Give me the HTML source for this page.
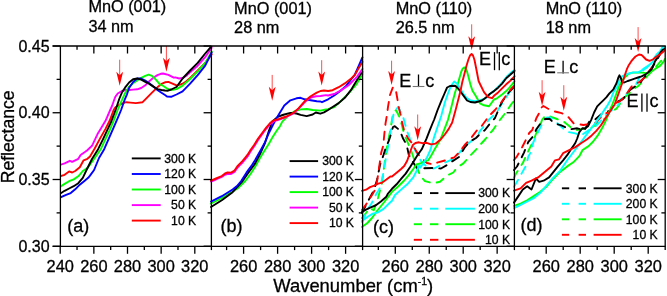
<!DOCTYPE html>
<html><head><meta charset="utf-8"><style>
html,body{margin:0;padding:0;background:#fff;width:667px;height:296px;overflow:hidden}
text{font-family:"Liberation Sans",sans-serif}
</style></head><body>
<svg width="667" height="296" viewBox="0 0 667 296" style="display:block;will-change:transform">
<defs><clipPath id="plot"><rect x="60.4" y="46" width="604.8" height="200.3"/></clipPath></defs>
<g font-family="'Liberation Sans', sans-serif" fill="#000" stroke="#000" stroke-width="0.3">
<text x="49.6" y="51.60" text-anchor="end" font-size="16.0">0.45</text>
<text x="49.6" y="118.35" text-anchor="end" font-size="16.0">0.40</text>
<text x="49.6" y="185.10" text-anchor="end" font-size="16.0">0.35</text>
<text x="49.6" y="251.85" text-anchor="end" font-size="16.0">0.30</text>
<text x="60.20" y="271.5" text-anchor="middle" font-size="16.4">240</text>
<text x="93.85" y="271.5" text-anchor="middle" font-size="16.4">260</text>
<text x="127.50" y="271.5" text-anchor="middle" font-size="16.4">280</text>
<text x="161.15" y="271.5" text-anchor="middle" font-size="16.4">300</text>
<text x="194.80" y="271.5" text-anchor="middle" font-size="16.4">320</text>
<text x="243.60" y="271.5" text-anchor="middle" font-size="16.4">260</text>
<text x="277.60" y="271.5" text-anchor="middle" font-size="16.4">280</text>
<text x="311.60" y="271.5" text-anchor="middle" font-size="16.4">300</text>
<text x="345.60" y="271.5" text-anchor="middle" font-size="16.4">320</text>
<text x="395.30" y="271.5" text-anchor="middle" font-size="16.4">260</text>
<text x="429.25" y="271.5" text-anchor="middle" font-size="16.4">280</text>
<text x="463.20" y="271.5" text-anchor="middle" font-size="16.4">300</text>
<text x="497.15" y="271.5" text-anchor="middle" font-size="16.4">320</text>
<text x="546.20" y="271.5" text-anchor="middle" font-size="16.4">260</text>
<text x="580.20" y="271.5" text-anchor="middle" font-size="16.4">280</text>
<text x="614.20" y="271.5" text-anchor="middle" font-size="16.4">300</text>
<text x="648.20" y="271.5" text-anchor="middle" font-size="16.4">320</text>
<text x="88.4" y="12.3" font-size="16.3">MnO (001)</text>
<text x="88.4" y="31.9" font-size="16.3">34 nm</text>
<text x="234.1" y="14.3" font-size="16.3">MnO (001)</text>
<text x="234.1" y="33.3" font-size="16.3">28 nm</text>
<text x="395.7" y="13.6" font-size="16.3">MnO (110)</text>
<text x="395.7" y="33.3" font-size="16.3">26.5 nm</text>
<text x="545.7" y="13.6" font-size="16.3">MnO (110)</text>
<text x="545.7" y="32.9" font-size="16.3">18 nm</text>
<text x="273.3" y="292.3" font-size="18.4">Wavenumber (cm<tspan dy="-7.2" font-size="10.5">-1</tspan><tspan dy="7.2">)</tspan></text>
<text transform="translate(14.2,183.3) rotate(-90)" font-size="17.6">Reflectance</text>
<text x="196.2" y="162.7" text-anchor="end" font-size="12.2">300 K</text>
<text x="354.0" y="165.4" text-anchor="end" font-size="12.2">300 K</text>
<text x="196.2" y="178.3" text-anchor="end" font-size="12.2">120 K</text>
<text x="354.0" y="180.9" text-anchor="end" font-size="12.2">120 K</text>
<text x="196.2" y="193.8" text-anchor="end" font-size="12.2">100 K</text>
<text x="354.0" y="196.4" text-anchor="end" font-size="12.2">100 K</text>
<text x="196.2" y="209.4" text-anchor="end" font-size="12.2">50 K</text>
<text x="354.0" y="211.9" text-anchor="end" font-size="12.2">50 K</text>
<text x="196.2" y="224.9" text-anchor="end" font-size="12.2">10 K</text>
<text x="354.0" y="227.4" text-anchor="end" font-size="12.2">10 K</text>
<text x="510.1" y="197.4" text-anchor="end" font-size="12.2">300 K</text>
<text x="657.7" y="192.6" text-anchor="end" font-size="12.2">300 K</text>
<text x="510.1" y="213.0" text-anchor="end" font-size="12.2">200 K</text>
<text x="657.7" y="208.1" text-anchor="end" font-size="12.2">200 K</text>
<text x="510.1" y="228.5" text-anchor="end" font-size="12.2">100 K</text>
<text x="657.7" y="223.6" text-anchor="end" font-size="12.2">100 K</text>
<text x="510.1" y="244.1" text-anchor="end" font-size="12.2">10 K</text>
<text x="657.7" y="239.1" text-anchor="end" font-size="12.2">10 K</text>
<text x="67.2" y="231.8" font-size="18">(a)</text>
<text x="220.5" y="232.0" font-size="18">(b)</text>
<text x="373.0" y="233.0" font-size="18">(c)</text>
<text x="520.6" y="230.5" font-size="18">(d)</text>
<text x="399.3" y="87.1" font-size="18">E</text>
<text x="425.3" y="87.1" font-size="18">c</text>
<text x="479.1" y="65.3" font-size="18">E</text>
<text x="501.3" y="65.3" font-size="18">c</text>
<text x="543.8" y="73.4" font-size="18">E</text>
<text x="569.3" y="73.4" font-size="18">c</text>
<text x="626.4" y="106.8" font-size="18">E</text>
<text x="649.5" y="106.8" font-size="18">c</text>
</g>
<g>
<path d="M60.0,176.3 L64.6,174.8 L69.1,171.4 L72.2,172.5 L75.2,171.0 L79.8,167.2 L83.6,160.3 L87.4,158.8 L90.0,156.5 L94.7,148.5 L100.1,138.4 L105.5,128.9 L109.6,120.8 L113.6,110.0 L115.2,107.5 L118.5,105.3 L121.9,103.6 L126.1,102.2 L130.4,102.6 L135.8,103.1 L142.6,102.2 L146.6,98.1 L152.0,92.7 L157.4,87.3 L161.5,83.9 L165.0,82.3 L168.4,81.9 L172.5,83.6 L176.5,85.4 L180.6,84.5 L182.6,83.7 L186.0,81.5 L190.1,78.0 L197.7,70.5 L205.2,62.9 L211.7,54.4" fill="none" stroke="#ff0000" stroke-width="1.9" stroke-linejoin="round" stroke-linecap="round" clip-path="url(#plot)"/>
<path d="M60.0,164.9 L64.6,163.4 L69.9,160.8 L72.2,161.9 L75.2,160.3 L78.3,158.8 L80.6,155.0 L84.2,152.5 L87.0,150.5 L92.0,145.8 L97.4,134.3 L101.5,127.6 L105.5,120.8 L110.2,110.0 L112.0,106.0 L115.2,97.0 L117.7,93.5 L121.9,91.0 L126.1,90.0 L129.1,90.0 L133.1,89.6 L137.2,89.3 L141.2,88.0 L145.3,85.3 L149.3,81.2 L153.4,77.8 L157.4,75.1 L160.8,73.8 L163.0,73.5 L168.4,74.9 L173.8,77.6 L175.3,77.4 L179.2,78.5 L182.6,78.0 L186.0,76.0 L190.1,72.4 L197.7,65.7 L205.2,57.2 L211.7,47.8" fill="none" stroke="#ff00ff" stroke-width="1.9" stroke-linejoin="round" stroke-linecap="round" clip-path="url(#plot)"/>
<path d="M60.0,187.0 L64.6,183.9 L69.1,181.2 L73.7,179.4 L78.3,176.3 L82.8,171.0 L88.0,167.5 L94.0,159.0 L100.8,149.2 L104.8,140.4 L109.6,130.3 L113.6,120.8 L117.7,110.0 L121.9,100.2 L124.5,94.3 L127.0,90.0 L129.1,86.6 L133.1,83.2 L137.2,80.5 L141.2,77.8 L145.3,75.8 L148.6,74.7 L152.0,75.8 L156.1,79.9 L160.1,84.6 L163.0,85.7 L167.0,88.6 L171.1,90.0 L176.5,89.1 L182.6,85.6 L190.1,79.0 L197.7,71.4 L205.2,62.9 L211.7,51.6" fill="none" stroke="#00ff00" stroke-width="1.9" stroke-linejoin="round" stroke-linecap="round" clip-path="url(#plot)"/>
<path d="M60.0,197.6 L66.1,194.9 L70.7,193.1 L75.2,189.3 L79.8,184.7 L84.4,180.9 L88.2,177.8 L90.0,175.6 L94.1,170.0 L99.0,158.0 L104.2,149.2 L108.9,138.4 L113.6,127.6 L117.7,118.1 L121.1,110.0 L124.5,100.2 L127.0,94.3 L129.1,88.0 L133.1,81.9 L137.2,78.5 L141.2,78.5 L145.3,80.5 L149.3,83.2 L153.4,86.6 L157.4,90.0 L161.5,92.7 L165.0,95.0 L167.0,96.5 L171.1,96.8 L176.5,94.5 L182.6,91.3 L190.1,83.7 L197.7,75.2 L205.2,65.7 L211.7,52.5" fill="none" stroke="#0000ff" stroke-width="1.9" stroke-linejoin="round" stroke-linecap="round" clip-path="url(#plot)"/>
<path d="M60.0,193.8 L64.6,190.8 L69.1,188.5 L73.7,186.2 L78.3,183.2 L82.8,177.8 L87.0,169.0 L92.0,159.0 L98.1,149.2 L102.8,139.7 L106.9,130.9 L111.0,122.2 L115.6,110.0 L119.4,98.5 L121.9,92.6 L125.2,87.4 L129.1,82.5 L133.1,79.2 L137.2,78.5 L141.2,79.6 L145.3,81.9 L149.3,83.9 L153.4,86.6 L157.4,89.1 L161.5,90.0 L165.0,90.5 L168.0,90.7 L171.1,89.5 L176.5,87.0 L182.6,78.5 L190.1,70.5 L197.7,62.9 L205.2,53.5 L211.4,46.3" fill="none" stroke="#000000" stroke-width="1.9" stroke-linejoin="round" stroke-linecap="round" clip-path="url(#plot)"/>
<line x1="119.7" y1="59.7" x2="119.7" y2="76.8" stroke="#ff0000" stroke-width="1.0" opacity="0.7"/>
<path d="M119.7,85.8 L116.3,71.8 L119.7,75.3 L123.10000000000001,71.8 Z" fill="#ff0000"/>
<line x1="166.4" y1="46" x2="166.4" y2="62.8" stroke="#ff0000" stroke-width="1.0" opacity="0.7"/>
<path d="M166.4,71.8 L163.0,57.8 L166.4,61.3 L169.8,57.8 Z" fill="#ff0000"/>
<path d="M211.0,203.5 L219.0,199.5 L227.2,194.9 L238.0,188.1 L245.3,181.0 L250.7,173.8 L255.0,167.0 L260.0,158.0 L264.9,150.0 L268.9,143.8 L273.0,136.4 L277.0,130.3 L280.0,126.2 L282.3,121.6 L288.4,115.5 L294.5,111.4 L300.6,109.4 L306.7,109.0 L312.7,110.0 L320.3,110.6 L325.9,109.5 L328.1,109.2 L334.2,107.0 L340.5,101.4 L348.6,93.3 L356.8,83.8 L362.4,74.0" fill="none" stroke="#00ff00" stroke-width="1.9" stroke-linejoin="round" stroke-linecap="round" clip-path="url(#plot)"/>
<path d="M211.0,207.0 L221.8,200.3 L232.6,192.2 L242.6,181.0 L248.0,173.1 L255.0,163.6 L260.0,154.0 L265.0,143.0 L268.5,132.0 L272.2,121.5 L278.3,116.5 L284.3,114.5 L290.4,112.9 L296.5,113.5 L300.6,114.9 L306.7,116.1 L312.7,114.5 L315.8,112.5 L320.3,113.7 L324.0,112.4 L328.1,110.0 L332.6,107.0 L338.7,103.1 L344.8,97.8 L350.9,90.2 L355.5,82.6 L360.0,75.0 L362.4,72.0" fill="none" stroke="#000000" stroke-width="1.9" stroke-linejoin="round" stroke-linecap="round" clip-path="url(#plot)"/>
<path d="M211.0,201.6 L221.8,196.2 L232.6,189.5 L237.0,186.0 L241.2,181.0 L246.6,172.4 L252.0,165.0 L255.0,160.3 L260.8,150.0 L264.9,142.4 L268.9,133.0 L273.0,124.9 L277.0,117.4 L280.0,112.5 L284.3,105.4 L290.4,100.3 L296.5,98.3 L300.6,97.8 L304.6,99.3 L310.7,100.3 L316.8,101.3 L320.5,101.5 L322.0,102.2 L328.1,99.3 L334.2,95.5 L340.3,91.0 L346.3,85.6 L350.9,79.6 L354.7,75.0 L358.5,66.5 L362.4,57.4" fill="none" stroke="#0000ff" stroke-width="1.9" stroke-linejoin="round" stroke-linecap="round" clip-path="url(#plot)"/>
<path d="M211.0,181.5 L216.0,179.5 L221.8,177.0 L225.0,174.8 L227.7,173.8 L231.1,174.0 L234.5,172.0 L237.2,168.0 L239.9,165.2 L242.6,162.5 L245.3,159.2 L248.0,155.8 L250.5,151.5 L254.1,146.5 L258.1,140.0 L262.2,134.2 L266.2,128.8 L270.3,124.0 L274.3,121.0 L278.4,119.8 L282.0,118.5 L286.4,117.0 L292.5,114.0 L298.5,108.8 L304.6,102.3 L308.0,99.5 L311.7,97.2 L316.0,96.3 L320.5,96.0 L325.9,95.1 L328.1,95.5 L334.2,94.0 L340.5,90.6 L348.6,85.2 L356.8,77.1 L362.4,69.0" fill="none" stroke="#ff00ff" stroke-width="1.9" stroke-linejoin="round" stroke-linecap="round" clip-path="url(#plot)"/>
<path d="M211.0,180.6 L216.0,178.5 L221.8,176.0 L225.0,173.5 L227.7,172.4 L231.1,172.6 L234.5,170.5 L237.2,166.5 L239.9,163.6 L242.6,160.9 L245.3,157.6 L248.0,154.2 L250.5,150.0 L254.1,145.0 L258.1,138.6 L262.2,133.0 L266.2,127.6 L270.3,122.8 L274.3,120.1 L278.4,119.2 L282.0,118.0 L286.4,116.5 L292.5,113.5 L298.5,108.4 L304.6,101.3 L310.7,96.2 L316.8,92.6 L320.5,91.0 L324.0,90.5 L328.1,91.0 L332.6,90.2 L338.7,87.2 L344.8,83.4 L350.9,78.8 L354.7,75.0 L358.5,68.5 L362.4,61.9" fill="none" stroke="#ff0000" stroke-width="1.9" stroke-linejoin="round" stroke-linecap="round" clip-path="url(#plot)"/>
<line x1="272.2" y1="74.9" x2="272.2" y2="91.7" stroke="#ff0000" stroke-width="1.0" opacity="0.7"/>
<path d="M272.2,100.7 L268.8,86.7 L272.2,90.2 L275.59999999999997,86.7 Z" fill="#ff0000"/>
<line x1="321.7" y1="60.2" x2="321.7" y2="76.6" stroke="#ff0000" stroke-width="1.0" opacity="0.7"/>
<path d="M321.7,85.6 L318.3,71.6 L321.7,75.1 L325.09999999999997,71.6 Z" fill="#ff0000"/>
<path d="M362.0,218.0 L370.0,208.0 L373.8,210.3 L378.0,198.0 L382.0,183.0 L385.0,160.0 L387.2,145.6 L388.9,137.1 L390.6,128.7 L391.9,120.3 L393.1,113.5 L396.0,110.0 L399.0,116.0 L401.5,123.6 L403.2,130.4 L405.8,138.0 L408.3,143.9 L412.0,153.0 L416.0,165.0 L420.3,175.7 L425.0,181.1 L430.0,182.5 L434.5,183.0 L440.0,181.8 L447.2,175.5 L453.3,172.5 L457.3,167.4 L463.4,163.4 L469.5,156.3 L475.5,150.2 L480.0,145.0 L485.5,139.0 L489.0,134.5 L493.0,130.0 L498.0,122.5 L503.8,115.0 L508.0,109.0 L512.4,102.8 L514.0,101.0" fill="none" stroke="#00ff00" stroke-width="1.9" stroke-linejoin="round" stroke-linecap="round" stroke-dasharray="8 7" clip-path="url(#plot)"/>
<path d="M362.0,222.0 L368.8,207.6 L371.5,203.5 L376.9,192.7 L378.9,190.0 L380.3,186.7 L384.0,170.0 L386.0,157.0 L388.9,142.2 L392.3,120.3 L393.9,112.7 L398.2,106.8 L403.2,116.9 L404.9,123.6 L407.4,132.1 L410.0,138.8 L415.0,150.0 L421.0,161.0 L427.0,167.0 L434.0,168.5 L440.1,165.4 L445.2,162.4 L452.3,159.4 L458.3,154.3 L462.4,149.2 L468.5,143.2 L476.6,137.1 L480.0,131.0 L484.5,125.5 L489.0,119.5 L493.6,115.4 L498.0,110.0 L503.0,102.0 L509.0,93.0 L514.0,87.0" fill="none" stroke="#00ffff" stroke-width="1.9" stroke-linejoin="round" stroke-linecap="round" stroke-dasharray="8 7" clip-path="url(#plot)"/>
<path d="M362.0,213.0 L366.0,205.0 L370.4,196.8 L374.0,190.0 L377.0,180.0 L380.0,165.0 L383.5,155.0 L386.0,147.0 L388.9,140.5 L390.6,135.4 L393.0,127.0 L394.8,126.2 L399.8,130.4 L403.2,138.8 L406.6,144.7 L408.8,154.7 L411.5,160.1 L417.6,168.9 L423.6,168.2 L433.0,168.0 L441.0,168.5 L447.0,165.0 L452.0,161.5 L459.0,157.0 L465.0,147.0 L470.0,141.5 L476.0,138.0 L480.0,134.0 L485.0,130.0 L490.0,123.5 L495.0,118.0 L500.0,106.0 L502.3,101.5 L506.0,96.0 L510.0,91.0 L514.0,87.0" fill="none" stroke="#000000" stroke-width="1.9" stroke-linejoin="round" stroke-linecap="round" stroke-dasharray="8 7" clip-path="url(#plot)"/>
<path d="M362.0,210.0 L367.0,203.0 L372.0,195.0 L375.0,190.0 L377.2,180.6 L381.3,152.2 L383.0,146.4 L383.8,139.7 L384.7,130.4 L385.5,123.6 L387.2,113.5 L388.0,106.8 L390.0,95.0 L393.0,87.0 L396.0,91.0 L399.0,108.4 L400.7,115.2 L402.4,123.6 L404.1,130.4 L408.3,138.8 L412.0,143.0 L416.2,151.1 L420.3,157.2 L427.0,163.0 L433.0,164.5 L438.0,162.4 L445.2,160.4 L454.3,157.3 L458.3,153.3 L465.4,144.2 L469.5,140.1 L477.4,129.7 L481.0,127.0 L485.0,121.5 L490.0,115.0 L495.0,110.0 L500.7,103.3 L505.0,97.0 L511.0,89.0 L514.0,86.0" fill="none" stroke="#ff0000" stroke-width="1.9" stroke-linejoin="round" stroke-linecap="round" stroke-dasharray="8 7" clip-path="url(#plot)"/>
<path d="M362.0,227.0 L367.4,223.0 L372.0,218.0 L377.0,211.0 L384.3,202.0 L392.0,191.9 L398.1,186.5 L404.2,180.5 L408.8,175.1 L413.3,169.0 L416.4,164.5 L420.3,163.5 L425.0,161.1 L428.1,160.4 L431.1,155.8 L435.7,147.4 L440.3,139.8 L443.3,132.2 L445.6,126.1 L447.9,120.0 L450.5,110.5 L453.3,99.3 L455.2,92.0 L457.3,86.0 L459.3,78.6 L461.3,71.5 L462.8,68.5 L464.4,67.4 L466.4,69.4 L468.4,76.5 L470.5,84.7 L472.5,90.8 L475.5,95.5 L480.0,103.3 L484.0,105.3 L489.1,106.3 L494.0,99.5 L497.0,98.3 L502.1,94.4 L506.2,91.1 L509.5,87.7 L514.5,81.3" fill="none" stroke="#00ff00" stroke-width="1.9" stroke-linejoin="round" stroke-linecap="round" clip-path="url(#plot)"/>
<path d="M362.0,221.1 L367.4,217.0 L372.8,213.6 L378.2,212.3 L383.6,208.9 L389.0,203.5 L392.0,200.8 L395.0,195.0 L401.1,189.6 L407.2,184.3 L413.3,177.4 L416.4,171.3 L419.4,165.2 L420.3,167.6 L423.6,162.8 L427.0,157.4 L430.4,150.0 L433.7,138.4 L437.4,127.2 L441.2,116.0 L445.0,102.0 L448.5,92.0 L451.0,86.0 L454.2,81.6 L457.3,83.7 L460.3,88.7 L463.4,93.8 L466.4,97.9 L470.4,100.4 L475.0,101.3 L480.0,100.5 L485.0,98.5 L490.0,94.0 L495.0,90.0 L500.0,85.0 L506.9,76.5 L511.9,71.8 L514.5,70.1" fill="none" stroke="#00ffff" stroke-width="1.9" stroke-linejoin="round" stroke-linecap="round" clip-path="url(#plot)"/>
<path d="M362.0,212.0 L366.0,209.6 L370.1,207.6 L375.5,205.5 L380.9,201.5 L386.3,196.8 L388.0,193.5 L392.0,188.8 L396.6,184.3 L401.1,178.9 L405.7,173.6 L410.3,166.8 L414.1,160.7 L417.9,154.6 L420.5,151.0 L422.0,148.9 L426.6,138.3 L429.6,130.7 L432.7,123.0 L434.2,119.5 L437.4,110.5 L441.2,101.2 L444.5,93.5 L447.1,87.5 L450.0,86.0 L455.2,85.7 L458.3,88.7 L461.3,92.8 L464.4,96.9 L467.0,100.5 L470.4,102.0 L475.0,102.5 L482.0,100.5 L486.0,97.5 L490.0,93.7 L494.0,91.1 L498.1,87.7 L502.1,83.6 L506.2,78.2 L510.2,74.8 L514.5,71.0" fill="none" stroke="#000000" stroke-width="1.9" stroke-linejoin="round" stroke-linecap="round" clip-path="url(#plot)"/>
<path d="M362.0,190.8 L366.1,189.7 L370.1,187.1 L374.2,185.7 L378.2,183.7 L382.3,182.6 L386.4,179.6 L390.4,176.5 L392.0,176.6 L396.6,172.8 L401.1,169.0 L404.2,166.0 L407.2,160.7 L408.8,156.1 L409.7,153.0 L410.8,150.0 L412.8,145.0 L415.5,143.0 L418.9,142.3 L422.3,143.2 L426.6,142.8 L431.1,144.4 L435.7,143.6 L440.3,139.8 L444.8,134.5 L448.6,129.1 L452.2,122.5 L456.0,108.6 L458.8,97.4 L460.7,90.0 L462.3,82.0 L464.4,74.0 L466.4,66.0 L468.4,59.5 L470.0,55.5 L471.6,54.0 L473.0,55.5 L474.5,60.0 L476.5,70.0 L478.6,81.0 L480.0,84.0 L484.0,92.1 L488.1,97.2 L492.1,98.2 L494.0,95.8 L498.1,92.4 L502.1,88.4 L506.2,84.3 L510.2,80.9 L514.5,76.3" fill="none" stroke="#ff0000" stroke-width="1.9" stroke-linejoin="round" stroke-linecap="round" clip-path="url(#plot)"/>
<line x1="391.6" y1="60.7" x2="391.6" y2="76.1" stroke="#ff0000" stroke-width="1.0" opacity="0.7"/>
<path d="M391.6,85.1 L388.20000000000005,71.1 L391.6,74.6 L395.0,71.1 Z" fill="#ff0000"/>
<line x1="417.7" y1="114.5" x2="417.7" y2="131.3" stroke="#ff0000" stroke-width="1.0" opacity="0.7"/>
<path d="M417.7,140.3 L414.3,126.30000000000001 L417.7,129.8 L421.09999999999997,126.30000000000001 Z" fill="#ff0000"/>
<line x1="471.7" y1="24.3" x2="471.7" y2="41.3" stroke="#ff0000" stroke-width="1.0" opacity="0.7"/>
<path d="M471.7,50.3 L468.3,36.3 L471.7,39.8 L475.09999999999997,36.3 Z" fill="#ff0000"/>
<path d="M514.0,178.0 L516.0,173.6 L523.1,162.5 L526.2,155.4 L530.2,147.2 L533.3,141.2 L536.3,133.0 L539.3,128.3 L542.0,120.0 L545.0,116.0 L550.0,116.5 L557.0,119.0 L563.5,121.5 L571.0,127.5 L577.0,130.0 L584.3,128.5 L590.4,128.5 L599.5,122.3 L605.5,118.2 L609.4,112.6 L616.5,108.6 L625.0,97.0 L634.0,88.8 L637.9,86.3 L643.8,80.4 L647.2,76.1 L655.0,68.0 L660.0,62.0 L665.0,57.0" fill="none" stroke="#00ff00" stroke-width="1.9" stroke-linejoin="round" stroke-linecap="round" stroke-dasharray="8 7" clip-path="url(#plot)"/>
<path d="M514.0,186.8 L517.0,181.7 L522.1,172.6 L526.2,165.5 L528.3,156.6 L531.5,151.1 L533.2,142.5 L536.3,136.1 L540.3,127.3 L543.4,121.5 L547.0,117.5 L550.4,117.5 L555.5,121.5 L561.0,126.5 L566.1,131.5 L575.2,133.4 L581.3,135.4 L588.3,130.4 L593.4,128.3 L600.0,122.0 L607.0,114.0 L613.9,108.6 L618.6,104.6 L622.0,97.2 L626.8,93.8 L630.1,88.4 L635.0,86.4 L643.4,69.9 L647.4,67.2 L653.1,60.9 L655.7,55.8 L661.6,48.2 L665.0,45.7" fill="none" stroke="#00ffff" stroke-width="1.9" stroke-linejoin="round" stroke-linecap="round" stroke-dasharray="8 7" clip-path="url(#plot)"/>
<path d="M514.0,170.0 L517.0,166.5 L521.1,158.4 L524.1,152.3 L528.2,142.2 L533.3,136.1 L536.3,129.4 L541.3,122.3 L545.0,119.0 L549.5,118.7 L554.2,123.3 L560.7,125.2 L567.2,128.0 L569.1,129.4 L577.2,128.3 L584.3,130.4 L589.4,121.3 L595.4,119.2 L603.3,112.6 L610.4,110.6 L615.5,102.5 L622.6,99.4 L630.0,90.0 L640.0,83.0 L643.0,79.0 L648.0,73.0 L655.0,63.0 L660.7,53.3 L665.0,49.1" fill="none" stroke="#000000" stroke-width="1.9" stroke-linejoin="round" stroke-linecap="round" stroke-dasharray="8 7" clip-path="url(#plot)"/>
<path d="M514.0,160.0 L517.0,156.4 L522.1,147.2 L525.2,141.2 L529.2,133.0 L532.3,130.0 L536.3,118.2 L540.3,111.0 L541.5,107.5 L543.4,106.0 L547.7,108.5 L553.2,111.2 L557.0,112.0 L561.6,113.1 L565.0,114.5 L568.1,116.8 L573.7,123.3 L577.2,124.0 L583.3,125.0 L590.4,124.0 L596.4,122.3 L603.0,114.5 L609.2,111.8 L613.9,103.9 L620.0,101.2 L625.0,96.0 L632.0,86.0 L639.3,82.0 L644.1,78.0 L649.5,70.5 L652.8,67.2 L655.7,60.1 L659.9,54.1 L665.0,48.0" fill="none" stroke="#ff0000" stroke-width="1.9" stroke-linejoin="round" stroke-linecap="round" stroke-dasharray="8 7" clip-path="url(#plot)"/>
<path d="M514.0,205.9 L520.6,203.7 L527.2,200.4 L533.7,196.1 L540.3,191.7 L546.9,186.2 L553.5,178.5 L560.1,171.9 L567.2,166.4 L573.3,162.3 L579.3,156.2 L582.6,150.0 L588.6,146.1 L593.2,141.5 L597.8,135.4 L602.3,127.8 L606.1,120.2 L608.4,114.1 L610.7,108.0 L612.2,105.0 L615.5,96.0 L619.1,86.1 L623.1,79.3 L628.5,73.9 L632.6,72.6 L638.0,72.6 L642.0,72.6 L646.8,73.1 L652.2,71.0 L656.2,68.3 L660.3,65.6 L663.6,61.6 L665.0,58.9" fill="none" stroke="#00ff00" stroke-width="1.9" stroke-linejoin="round" stroke-linecap="round" clip-path="url(#plot)"/>
<path d="M514.0,208.1 L520.6,204.8 L527.2,201.5 L533.7,198.2 L540.3,192.8 L546.9,185.1 L553.5,177.4 L560.1,170.8 L567.2,160.3 L573.3,152.2 L578.0,146.1 L582.6,140.0 L587.1,133.9 L591.7,127.8 L596.3,121.7 L600.8,115.6 L604.6,109.6 L607.7,105.0 L610.5,100.0 L613.4,92.3 L617.5,86.2 L619.1,80.7 L622.0,76.4 L625.4,74.7 L628.9,73.5 L633.5,72.4 L638.1,72.4 L641.5,70.6 L643.8,68.5 L646.1,67.0 L649.6,64.8 L652.0,62.5 L654.0,59.5 L656.2,55.5 L660.3,50.8 L663.0,46.7 L665.0,46.0" fill="none" stroke="#00ffff" stroke-width="1.9" stroke-linejoin="round" stroke-linecap="round" clip-path="url(#plot)"/>
<path d="M514.0,202.6 L518.4,196.1 L522.8,189.5 L527.2,186.2 L531.5,189.5 L535.9,178.5 L539.2,181.8 L543.6,180.7 L549.1,177.4 L553.5,171.9 L557.9,166.4 L563.1,160.3 L567.2,155.2 L571.2,149.1 L575.3,143.0 L577.2,138.5 L579.2,132.4 L582.3,128.3 L585.0,128.5 L588.0,126.2 L591.1,120.1 L594.1,112.5 L597.2,106.4 L600.2,103.4 L603.3,100.3 L606.3,97.3 L609.4,93.4 L613.4,89.3 L616.5,83.2 L618.5,77.1 L619.5,75.3 L621.1,78.6 L622.0,82.1 L624.3,82.5 L627.7,81.0 L631.2,79.8 L634.6,78.7 L638.1,77.5 L641.5,76.4 L645.0,74.7 L648.4,72.2 L651.9,69.0 L654.9,61.6 L657.6,57.5 L660.3,52.8 L662.3,50.1 L665.0,48.5" fill="none" stroke="#000000" stroke-width="1.9" stroke-linejoin="round" stroke-linecap="round" clip-path="url(#plot)"/>
<path d="M514.0,190.6 L520.6,188.4 L526.1,182.9 L531.5,180.7 L538.1,177.4 L544.7,171.9 L551.3,166.4 L555.0,160.3 L559.1,159.3 L563.1,153.2 L569.2,150.1 L575.3,147.1 L581.4,143.0 L582.6,142.3 L587.1,139.2 L591.7,135.4 L596.3,130.9 L600.8,125.5 L604.6,119.4 L608.4,114.1 L612.2,108.0 L614.5,105.0 L617.0,98.0 L620.5,88.0 L623.3,80.0 L625.4,73.5 L627.2,68.3 L628.9,64.9 L631.2,61.4 L633.5,58.6 L635.5,56.5 L639.0,54.5 L641.5,55.0 L642.7,56.0 L646.1,59.5 L649.5,60.9 L652.8,59.5 L656.2,56.8 L660.3,54.1 L663.6,51.4 L665.0,50.1" fill="none" stroke="#ff0000" stroke-width="1.9" stroke-linejoin="round" stroke-linecap="round" clip-path="url(#plot)"/>
<line x1="542.1" y1="80.2" x2="542.1" y2="96.7" stroke="#ff0000" stroke-width="1.0" opacity="0.7"/>
<path d="M542.1,105.7 L538.7,91.7 L542.1,95.2 L545.5,91.7 Z" fill="#ff0000"/>
<line x1="563.8" y1="85.2" x2="563.8" y2="101.7" stroke="#ff0000" stroke-width="1.0" opacity="0.7"/>
<path d="M563.8,110.7 L560.4,96.7 L563.8,100.2 L567.1999999999999,96.7 Z" fill="#ff0000"/>
<line x1="638.1" y1="27.1" x2="638.1" y2="43" stroke="#ff0000" stroke-width="1.0" opacity="0.7"/>
<path d="M638.1,52 L634.7,38.0 L638.1,41.5 L641.5,38.0 Z" fill="#ff0000"/>
<line x1="131.8" y1="158.4" x2="160.7" y2="158.4" stroke="#000000" stroke-width="1.9"/>
<line x1="289.6" y1="161.1" x2="318.1" y2="161.1" stroke="#000000" stroke-width="1.9"/>
<line x1="131.8" y1="174.0" x2="160.7" y2="174.0" stroke="#0000ff" stroke-width="1.9"/>
<line x1="289.6" y1="176.6" x2="318.1" y2="176.6" stroke="#0000ff" stroke-width="1.9"/>
<line x1="131.8" y1="189.5" x2="160.7" y2="189.5" stroke="#00ff00" stroke-width="1.9"/>
<line x1="289.6" y1="192.1" x2="318.1" y2="192.1" stroke="#00ff00" stroke-width="1.9"/>
<line x1="131.8" y1="205.1" x2="160.7" y2="205.1" stroke="#ff00ff" stroke-width="1.9"/>
<line x1="289.6" y1="207.6" x2="318.1" y2="207.6" stroke="#ff00ff" stroke-width="1.9"/>
<line x1="131.8" y1="220.6" x2="160.7" y2="220.6" stroke="#ff0000" stroke-width="1.9"/>
<line x1="289.6" y1="223.1" x2="318.1" y2="223.1" stroke="#ff0000" stroke-width="1.9"/>
<line x1="413.8" y1="193.1" x2="422" y2="193.1" stroke="#000000" stroke-width="1.9"/>
<line x1="430" y1="193.1" x2="438.4" y2="193.1" stroke="#000000" stroke-width="1.9"/>
<line x1="445.3" y1="193.1" x2="474.9" y2="193.1" stroke="#000000" stroke-width="1.9"/>
<line x1="561.9" y1="188.3" x2="569.2" y2="188.3" stroke="#000000" stroke-width="1.9"/>
<line x1="578.6" y1="188.3" x2="586" y2="188.3" stroke="#000000" stroke-width="1.9"/>
<line x1="593.6" y1="188.3" x2="621.6" y2="188.3" stroke="#000000" stroke-width="1.9"/>
<line x1="413.8" y1="208.7" x2="422" y2="208.7" stroke="#00ffff" stroke-width="1.9"/>
<line x1="430" y1="208.7" x2="438.4" y2="208.7" stroke="#00ffff" stroke-width="1.9"/>
<line x1="445.3" y1="208.7" x2="474.9" y2="208.7" stroke="#00ffff" stroke-width="1.9"/>
<line x1="561.9" y1="203.8" x2="569.2" y2="203.8" stroke="#00ffff" stroke-width="1.9"/>
<line x1="578.6" y1="203.8" x2="586" y2="203.8" stroke="#00ffff" stroke-width="1.9"/>
<line x1="593.6" y1="203.8" x2="621.6" y2="203.8" stroke="#00ffff" stroke-width="1.9"/>
<line x1="413.8" y1="224.2" x2="422" y2="224.2" stroke="#00ff00" stroke-width="1.9"/>
<line x1="430" y1="224.2" x2="438.4" y2="224.2" stroke="#00ff00" stroke-width="1.9"/>
<line x1="445.3" y1="224.2" x2="474.9" y2="224.2" stroke="#00ff00" stroke-width="1.9"/>
<line x1="561.9" y1="219.3" x2="569.2" y2="219.3" stroke="#00ff00" stroke-width="1.9"/>
<line x1="578.6" y1="219.3" x2="586" y2="219.3" stroke="#00ff00" stroke-width="1.9"/>
<line x1="593.6" y1="219.3" x2="621.6" y2="219.3" stroke="#00ff00" stroke-width="1.9"/>
<line x1="413.8" y1="239.8" x2="422" y2="239.8" stroke="#ff0000" stroke-width="1.9"/>
<line x1="430" y1="239.8" x2="438.4" y2="239.8" stroke="#ff0000" stroke-width="1.9"/>
<line x1="445.3" y1="239.8" x2="474.9" y2="239.8" stroke="#ff0000" stroke-width="1.9"/>
<line x1="561.9" y1="234.8" x2="569.2" y2="234.8" stroke="#ff0000" stroke-width="1.9"/>
<line x1="578.6" y1="234.8" x2="586" y2="234.8" stroke="#ff0000" stroke-width="1.9"/>
<line x1="593.6" y1="234.8" x2="621.6" y2="234.8" stroke="#ff0000" stroke-width="1.9"/>
<line x1="418.5" y1="74.5" x2="418.5" y2="87.1" stroke="#000" stroke-width="1.3"/>
<line x1="412.7" y1="86.5" x2="424.4" y2="86.5" stroke="#777" stroke-width="1.1"/>
<line x1="494.5" y1="52.099999999999994" x2="494.5" y2="70.2" stroke="#000" stroke-width="1.3"/>
<line x1="499.3" y1="52.099999999999994" x2="499.3" y2="70.2" stroke="#000" stroke-width="1.3"/>
<line x1="563.1" y1="60.800000000000004" x2="563.1" y2="73.4" stroke="#000" stroke-width="1.3"/>
<line x1="557.2" y1="72.80000000000001" x2="568.9" y2="72.80000000000001" stroke="#777" stroke-width="1.1"/>
<line x1="641.9" y1="93.6" x2="641.9" y2="111.7" stroke="#000" stroke-width="1.3"/>
<line x1="647.0" y1="93.6" x2="647.0" y2="111.7" stroke="#000" stroke-width="1.3"/>
</g>
<g>
<line x1="52.6" y1="46.0" x2="665.8" y2="46.0" stroke="#000" stroke-width="1.3"/>
<line x1="52.6" y1="246.3" x2="665.8" y2="246.3" stroke="#000" stroke-width="1.3"/>
<line x1="60.4" y1="46.0" x2="60.4" y2="246.3" stroke="#000" stroke-width="1.3"/>
<line x1="52.6" y1="46.00" x2="60.4" y2="46.00" stroke="#000" stroke-width="1.3"/>
<line x1="52.6" y1="112.75" x2="60.4" y2="112.75" stroke="#000" stroke-width="1.3"/>
<line x1="52.6" y1="179.50" x2="60.4" y2="179.50" stroke="#000" stroke-width="1.3"/>
<line x1="52.6" y1="246.25" x2="60.4" y2="246.25" stroke="#000" stroke-width="1.3"/>
<line x1="56.6" y1="79.38" x2="60.4" y2="79.38" stroke="#000" stroke-width="1.3"/>
<line x1="56.6" y1="146.12" x2="60.4" y2="146.12" stroke="#000" stroke-width="1.3"/>
<line x1="56.6" y1="212.88" x2="60.4" y2="212.88" stroke="#000" stroke-width="1.3"/>
<line x1="60.20" y1="246.3" x2="60.20" y2="253.8" stroke="#000" stroke-width="1.3"/>
<line x1="77.03" y1="246.3" x2="77.03" y2="250.10000000000002" stroke="#000" stroke-width="1.3"/>
<line x1="77.03" y1="46.0" x2="77.03" y2="49.8" stroke="#000" stroke-width="1.3"/>
<line x1="93.85" y1="246.3" x2="93.85" y2="253.8" stroke="#000" stroke-width="1.3"/>
<line x1="93.85" y1="46.0" x2="93.85" y2="53.5" stroke="#000" stroke-width="1.3"/>
<line x1="110.68" y1="246.3" x2="110.68" y2="250.10000000000002" stroke="#000" stroke-width="1.3"/>
<line x1="110.68" y1="46.0" x2="110.68" y2="49.8" stroke="#000" stroke-width="1.3"/>
<line x1="127.50" y1="246.3" x2="127.50" y2="253.8" stroke="#000" stroke-width="1.3"/>
<line x1="127.50" y1="46.0" x2="127.50" y2="53.5" stroke="#000" stroke-width="1.3"/>
<line x1="144.32" y1="246.3" x2="144.32" y2="250.10000000000002" stroke="#000" stroke-width="1.3"/>
<line x1="144.32" y1="46.0" x2="144.32" y2="49.8" stroke="#000" stroke-width="1.3"/>
<line x1="161.15" y1="246.3" x2="161.15" y2="253.8" stroke="#000" stroke-width="1.3"/>
<line x1="161.15" y1="46.0" x2="161.15" y2="53.5" stroke="#000" stroke-width="1.3"/>
<line x1="177.98" y1="246.3" x2="177.98" y2="250.10000000000002" stroke="#000" stroke-width="1.3"/>
<line x1="177.98" y1="46.0" x2="177.98" y2="49.8" stroke="#000" stroke-width="1.3"/>
<line x1="194.80" y1="246.3" x2="194.80" y2="253.8" stroke="#000" stroke-width="1.3"/>
<line x1="194.80" y1="46.0" x2="194.80" y2="53.5" stroke="#000" stroke-width="1.3"/>
<line x1="211.40" y1="246.3" x2="211.40" y2="250.10000000000002" stroke="#000" stroke-width="1.3"/>
<line x1="211.4" y1="46.0" x2="211.4" y2="246.3" stroke="#000" stroke-width="1.3"/>
<line x1="203.6" y1="46.00" x2="211.4" y2="46.00" stroke="#000" stroke-width="1.3"/>
<line x1="203.6" y1="112.75" x2="211.4" y2="112.75" stroke="#000" stroke-width="1.3"/>
<line x1="203.6" y1="179.50" x2="211.4" y2="179.50" stroke="#000" stroke-width="1.3"/>
<line x1="203.6" y1="246.25" x2="211.4" y2="246.25" stroke="#000" stroke-width="1.3"/>
<line x1="207.6" y1="79.38" x2="211.4" y2="79.38" stroke="#000" stroke-width="1.3"/>
<line x1="207.6" y1="146.12" x2="211.4" y2="146.12" stroke="#000" stroke-width="1.3"/>
<line x1="207.6" y1="212.88" x2="211.4" y2="212.88" stroke="#000" stroke-width="1.3"/>
<line x1="226.60" y1="246.3" x2="226.60" y2="250.10000000000002" stroke="#000" stroke-width="1.3"/>
<line x1="226.60" y1="46.0" x2="226.60" y2="49.8" stroke="#000" stroke-width="1.3"/>
<line x1="243.60" y1="246.3" x2="243.60" y2="253.8" stroke="#000" stroke-width="1.3"/>
<line x1="243.60" y1="46.0" x2="243.60" y2="53.5" stroke="#000" stroke-width="1.3"/>
<line x1="260.60" y1="246.3" x2="260.60" y2="250.10000000000002" stroke="#000" stroke-width="1.3"/>
<line x1="260.60" y1="46.0" x2="260.60" y2="49.8" stroke="#000" stroke-width="1.3"/>
<line x1="277.60" y1="246.3" x2="277.60" y2="253.8" stroke="#000" stroke-width="1.3"/>
<line x1="277.60" y1="46.0" x2="277.60" y2="53.5" stroke="#000" stroke-width="1.3"/>
<line x1="294.60" y1="246.3" x2="294.60" y2="250.10000000000002" stroke="#000" stroke-width="1.3"/>
<line x1="294.60" y1="46.0" x2="294.60" y2="49.8" stroke="#000" stroke-width="1.3"/>
<line x1="311.60" y1="246.3" x2="311.60" y2="253.8" stroke="#000" stroke-width="1.3"/>
<line x1="311.60" y1="46.0" x2="311.60" y2="53.5" stroke="#000" stroke-width="1.3"/>
<line x1="328.60" y1="246.3" x2="328.60" y2="250.10000000000002" stroke="#000" stroke-width="1.3"/>
<line x1="328.60" y1="46.0" x2="328.60" y2="49.8" stroke="#000" stroke-width="1.3"/>
<line x1="345.60" y1="246.3" x2="345.60" y2="253.8" stroke="#000" stroke-width="1.3"/>
<line x1="345.60" y1="46.0" x2="345.60" y2="53.5" stroke="#000" stroke-width="1.3"/>
<line x1="362.60" y1="246.3" x2="362.60" y2="250.10000000000002" stroke="#000" stroke-width="1.3"/>
<line x1="362.6" y1="46.0" x2="362.6" y2="246.3" stroke="#000" stroke-width="1.3"/>
<line x1="354.8" y1="46.00" x2="362.6" y2="46.00" stroke="#000" stroke-width="1.3"/>
<line x1="354.8" y1="112.75" x2="362.6" y2="112.75" stroke="#000" stroke-width="1.3"/>
<line x1="354.8" y1="179.50" x2="362.6" y2="179.50" stroke="#000" stroke-width="1.3"/>
<line x1="354.8" y1="246.25" x2="362.6" y2="246.25" stroke="#000" stroke-width="1.3"/>
<line x1="358.8" y1="79.38" x2="362.6" y2="79.38" stroke="#000" stroke-width="1.3"/>
<line x1="358.8" y1="146.12" x2="362.6" y2="146.12" stroke="#000" stroke-width="1.3"/>
<line x1="358.8" y1="212.88" x2="362.6" y2="212.88" stroke="#000" stroke-width="1.3"/>
<line x1="378.33" y1="246.3" x2="378.33" y2="250.10000000000002" stroke="#000" stroke-width="1.3"/>
<line x1="378.33" y1="46.0" x2="378.33" y2="49.8" stroke="#000" stroke-width="1.3"/>
<line x1="395.30" y1="246.3" x2="395.30" y2="253.8" stroke="#000" stroke-width="1.3"/>
<line x1="395.30" y1="46.0" x2="395.30" y2="53.5" stroke="#000" stroke-width="1.3"/>
<line x1="412.28" y1="246.3" x2="412.28" y2="250.10000000000002" stroke="#000" stroke-width="1.3"/>
<line x1="412.28" y1="46.0" x2="412.28" y2="49.8" stroke="#000" stroke-width="1.3"/>
<line x1="429.25" y1="246.3" x2="429.25" y2="253.8" stroke="#000" stroke-width="1.3"/>
<line x1="429.25" y1="46.0" x2="429.25" y2="53.5" stroke="#000" stroke-width="1.3"/>
<line x1="446.23" y1="246.3" x2="446.23" y2="250.10000000000002" stroke="#000" stroke-width="1.3"/>
<line x1="446.23" y1="46.0" x2="446.23" y2="49.8" stroke="#000" stroke-width="1.3"/>
<line x1="463.20" y1="246.3" x2="463.20" y2="253.8" stroke="#000" stroke-width="1.3"/>
<line x1="463.20" y1="46.0" x2="463.20" y2="53.5" stroke="#000" stroke-width="1.3"/>
<line x1="480.18" y1="246.3" x2="480.18" y2="250.10000000000002" stroke="#000" stroke-width="1.3"/>
<line x1="480.18" y1="46.0" x2="480.18" y2="49.8" stroke="#000" stroke-width="1.3"/>
<line x1="497.15" y1="246.3" x2="497.15" y2="253.8" stroke="#000" stroke-width="1.3"/>
<line x1="497.15" y1="46.0" x2="497.15" y2="53.5" stroke="#000" stroke-width="1.3"/>
<line x1="514.40" y1="246.3" x2="514.40" y2="250.10000000000002" stroke="#000" stroke-width="1.3"/>
<line x1="514.4" y1="46.0" x2="514.4" y2="246.3" stroke="#000" stroke-width="1.3"/>
<line x1="506.59999999999997" y1="46.00" x2="514.4" y2="46.00" stroke="#000" stroke-width="1.3"/>
<line x1="506.59999999999997" y1="112.75" x2="514.4" y2="112.75" stroke="#000" stroke-width="1.3"/>
<line x1="506.59999999999997" y1="179.50" x2="514.4" y2="179.50" stroke="#000" stroke-width="1.3"/>
<line x1="506.59999999999997" y1="246.25" x2="514.4" y2="246.25" stroke="#000" stroke-width="1.3"/>
<line x1="510.59999999999997" y1="79.38" x2="514.4" y2="79.38" stroke="#000" stroke-width="1.3"/>
<line x1="510.59999999999997" y1="146.12" x2="514.4" y2="146.12" stroke="#000" stroke-width="1.3"/>
<line x1="510.59999999999997" y1="212.88" x2="514.4" y2="212.88" stroke="#000" stroke-width="1.3"/>
<line x1="529.20" y1="246.3" x2="529.20" y2="250.10000000000002" stroke="#000" stroke-width="1.3"/>
<line x1="529.20" y1="46.0" x2="529.20" y2="49.8" stroke="#000" stroke-width="1.3"/>
<line x1="546.20" y1="246.3" x2="546.20" y2="253.8" stroke="#000" stroke-width="1.3"/>
<line x1="546.20" y1="46.0" x2="546.20" y2="53.5" stroke="#000" stroke-width="1.3"/>
<line x1="563.20" y1="246.3" x2="563.20" y2="250.10000000000002" stroke="#000" stroke-width="1.3"/>
<line x1="563.20" y1="46.0" x2="563.20" y2="49.8" stroke="#000" stroke-width="1.3"/>
<line x1="580.20" y1="246.3" x2="580.20" y2="253.8" stroke="#000" stroke-width="1.3"/>
<line x1="580.20" y1="46.0" x2="580.20" y2="53.5" stroke="#000" stroke-width="1.3"/>
<line x1="597.20" y1="246.3" x2="597.20" y2="250.10000000000002" stroke="#000" stroke-width="1.3"/>
<line x1="597.20" y1="46.0" x2="597.20" y2="49.8" stroke="#000" stroke-width="1.3"/>
<line x1="614.20" y1="246.3" x2="614.20" y2="253.8" stroke="#000" stroke-width="1.3"/>
<line x1="614.20" y1="46.0" x2="614.20" y2="53.5" stroke="#000" stroke-width="1.3"/>
<line x1="631.20" y1="246.3" x2="631.20" y2="250.10000000000002" stroke="#000" stroke-width="1.3"/>
<line x1="631.20" y1="46.0" x2="631.20" y2="49.8" stroke="#000" stroke-width="1.3"/>
<line x1="648.20" y1="246.3" x2="648.20" y2="253.8" stroke="#000" stroke-width="1.3"/>
<line x1="648.20" y1="46.0" x2="648.20" y2="53.5" stroke="#000" stroke-width="1.3"/>
<line x1="665.20" y1="246.3" x2="665.20" y2="250.10000000000002" stroke="#000" stroke-width="1.3"/>
<line x1="665.2" y1="46.0" x2="665.2" y2="246.3" stroke="#000" stroke-width="1.3"/>
<line x1="657.7" y1="112.75" x2="665.2" y2="112.75" stroke="#000" stroke-width="1.3"/>
<line x1="657.7" y1="179.50" x2="665.2" y2="179.50" stroke="#000" stroke-width="1.3"/>
<line x1="661.4000000000001" y1="79.38" x2="665.2" y2="79.38" stroke="#000" stroke-width="1.3"/>
<line x1="661.4000000000001" y1="146.12" x2="665.2" y2="146.12" stroke="#000" stroke-width="1.3"/>
<line x1="661.4000000000001" y1="212.88" x2="665.2" y2="212.88" stroke="#000" stroke-width="1.3"/>
</g>
</svg>
</body></html>
